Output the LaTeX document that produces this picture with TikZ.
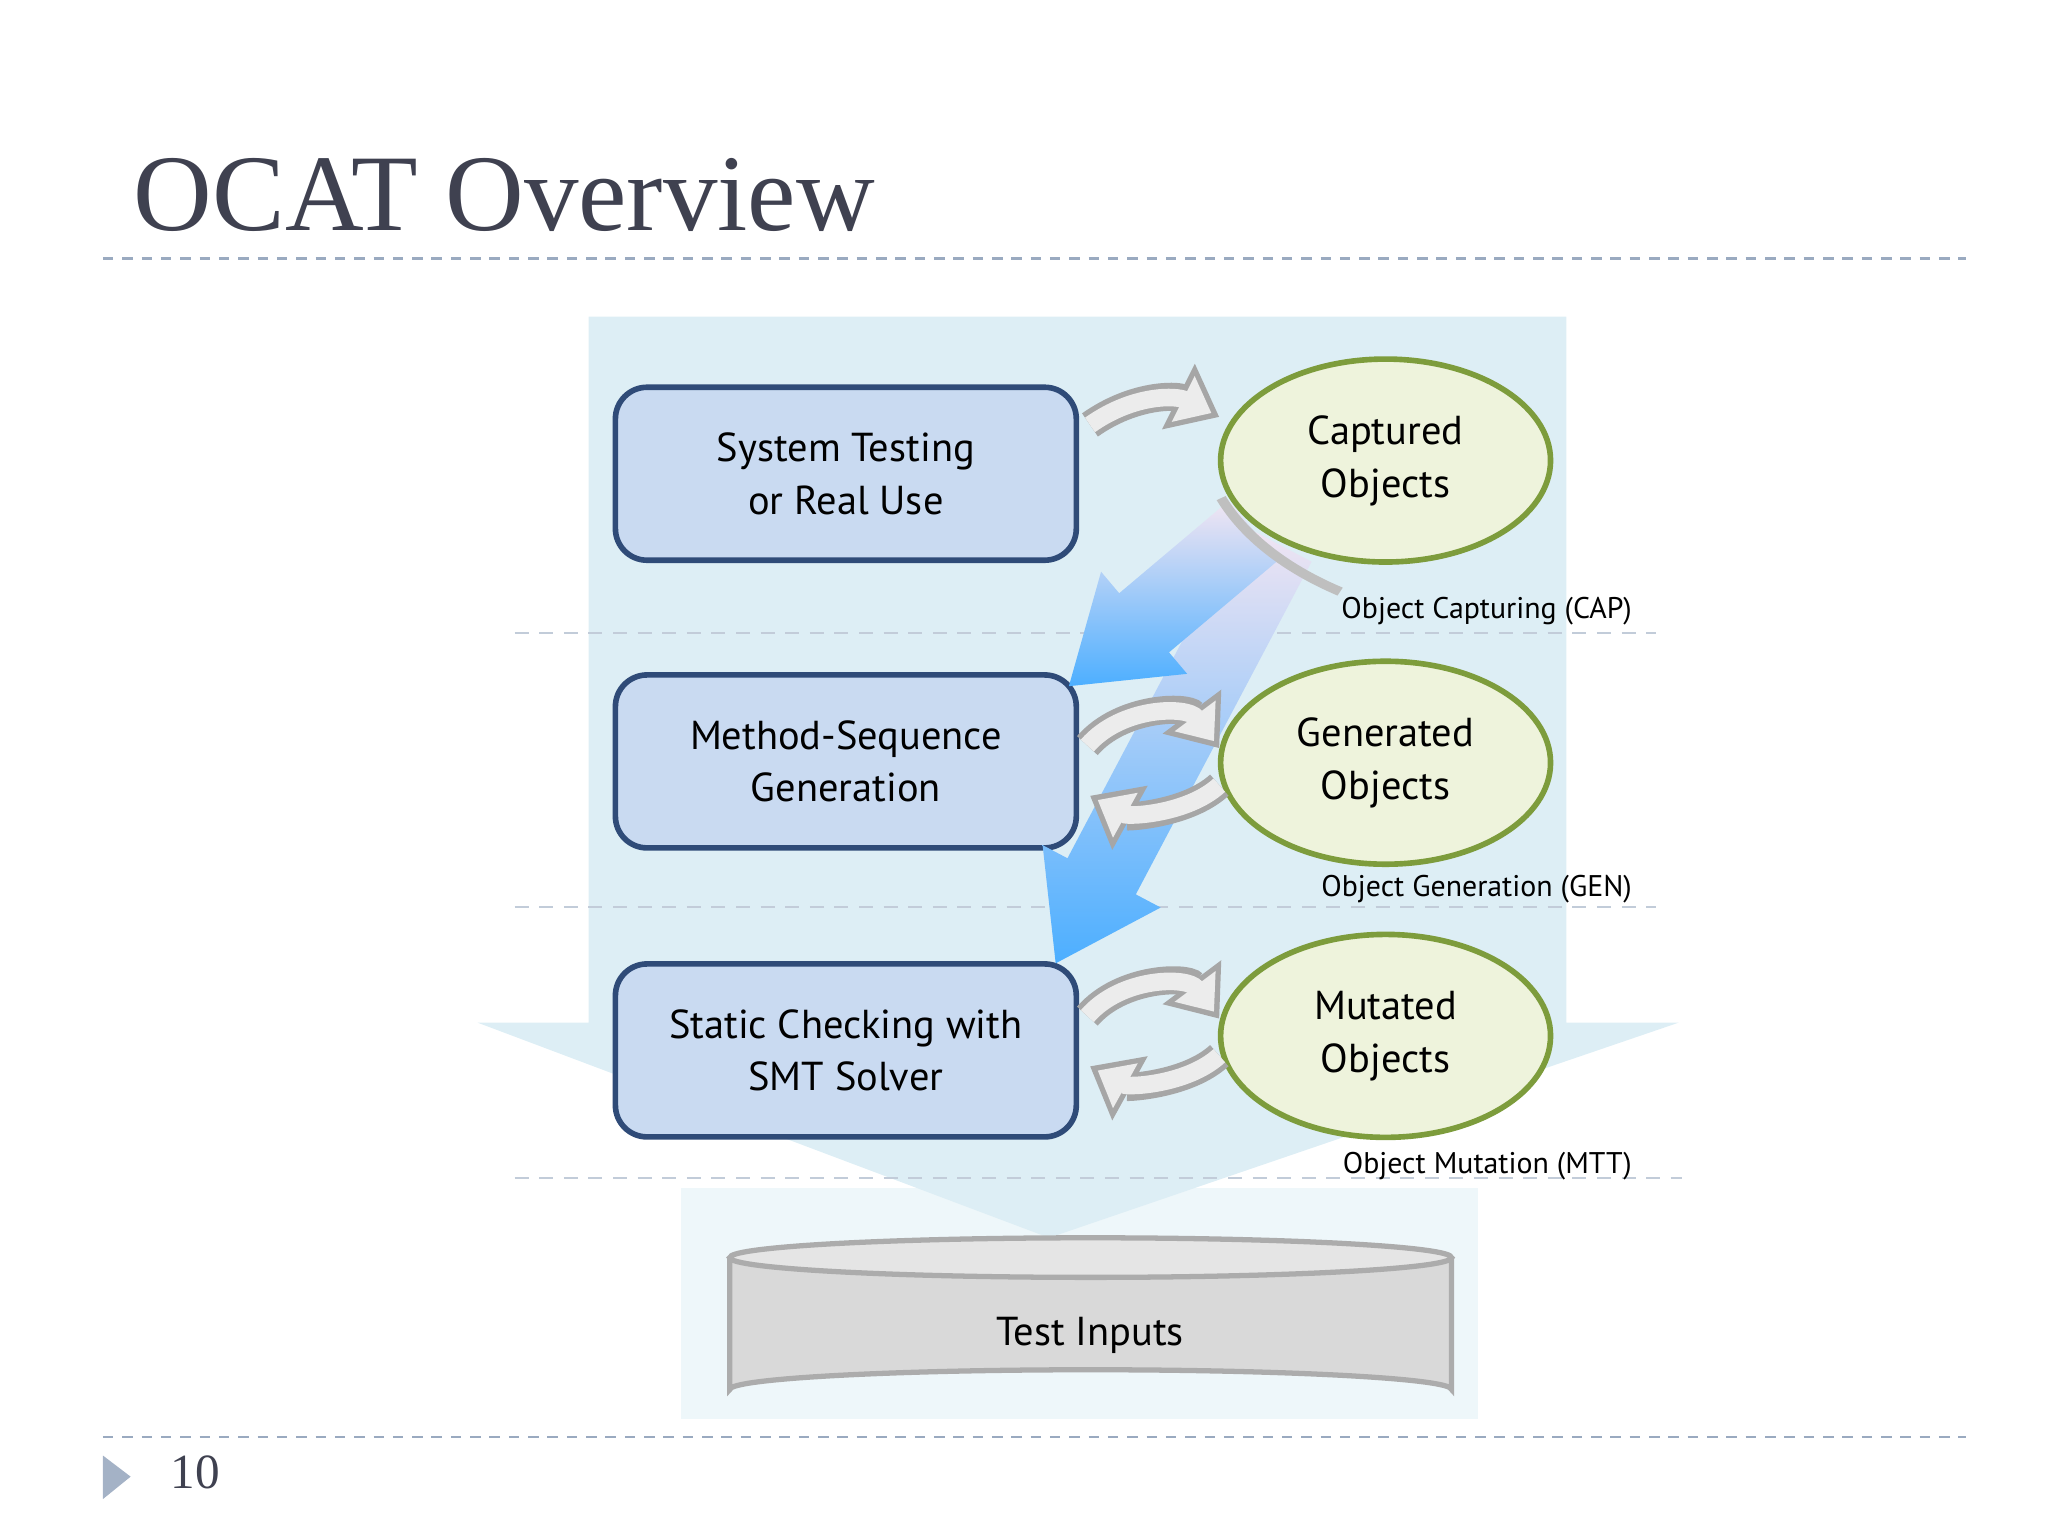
\documentclass[tikz,border=0pt]{standalone}
\usepackage{fontspec}
\setmainfont{Liberation Serif}
\newfontfamily\sansf{PT Sans}
\usetikzlibrary{shapes.geometric,arrows.meta,calc}
\definecolor{bgblue}{HTML}{DDEEF5}
\definecolor{boxfill}{HTML}{C9DAF1}
\definecolor{boxline}{HTML}{2F4B78}
\definecolor{ellfill}{HTML}{EEF3DC}
\definecolor{ellline}{HTML}{7D9C3C}
\definecolor{dashc}{HTML}{9AAAC0}
\definecolor{titlec}{HTML}{3F4150}
\begin{document}
\begin{tikzpicture}[x=0.013196cm,y=-0.013196cm,
  box/.style={draw=boxline,line width=1.6pt,fill=boxfill,rounded corners=9pt,minimum width=4.61cm,minimum height=1.73cm,align=center,font=\sansf\fontsize{11.5}{15}\selectfont},
  ell/.style={ellipse,draw=ellline,line width=1.6pt,fill=ellfill,minimum width=3.3cm,minimum height=2.03cm,align=center,font=\sansf\fontsize{11.5}{15}\selectfont},
  lab/.style={anchor=base east,font=\sansf\fontsize{8.5}{10}\selectfont},
  sep/.style={dash pattern=on 4pt off 3pt,draw=dashc!60,line width=0.6pt},
  gout/.style={line width=8pt,draw=gray!70,-{Triangle[length=13pt,width=20pt]}},
  gin/.style={line width=5pt,draw=gray!15,-{Triangle[length=9pt,width=14pt]},shorten >=2.5pt}]
\useasboundingbox (0,0) rectangle (1552,1164);
% title
\node[anchor=base west,text=titlec,font=\fontsize{31}{36}\selectfont] (title) at (92,175) {OCAT Overview};
\draw[dash pattern=on 3pt off 2.5pt,draw=dashc,line width=0.7pt] (78,196) -- (1490,196);
\draw[dash pattern=on 3pt off 2.5pt,draw=dashc,line width=0.7pt] (78,1089) -- (1490,1089);
\fill[dashc!90] (78,1103) -- (99,1119) -- (78,1136) -- cycle;
\node[anchor=base west,font=\fontsize{14}{16}\selectfont,text=titlec] (num) at (120,1128) {10};
% background
\fill[bgblue!50] (516,900) rectangle (1120,1075);
\fill[bgblue] (446,240) -- (1187,240) -- (1187,775) -- (1272,775) -- (795,938) -- (362,775) -- (446,775) -- cycle;
% separators
\draw[sep] (390,480) -- (1255,480);
\draw[sep] (390,687) -- (1255,687);
\draw[sep] (390,893) -- (1275,893);
% boxes
\node[box] (sys) at (641,359) {System Testing\\or Real Use};
\node[box] (msg) at (641,577) {Method-Sequence\\Generation};
\node[box] (smt) at (641,796) {Static Checking with\\SMT Solver};
\node[ell] (cap) at (1050,349) {Captured\\Objects};
\node[ell] (gen) at (1050,578) {Generated\\Objects};
\node[ell] (mut) at (1050,785) {Mutated\\Objects};
\node[lab] (lcap) at (1246,469) {Object Capturing (CAP)};
\node[lab] (lgen) at (1246,679) {Object Generation (GEN)};
\node[lab] (lmut) at (1246,889) {Object Mutation (MTT)};
% blue fat arrows
\newcommand\fatarr[5]{%
 \coordinate (H) at ($(#2)!#5!(#1)$);
 \shade[top color=white!90!violet,bottom color=blue!45!cyan!70!white,draw=none]
 ($(#1)!#3!90:(#2)$) -- ($(H)!#3!90:(#2)$) -- ($(H)!#4!90:(#2)$) -- (#2)
 -- ($(H)!#4!-90:(#2)$) -- ($(H)!#3!-90:(#2)$) -- ($(#1)!#3!-90:(#2)$) -- cycle;}
\coordinate (a1) at (950,402);
\coordinate (b1) at (810,520);
\coordinate (a2) at (968,412);
\coordinate (b2) at (800,730);
\fatarr{a2}{b2}{11pt}{19pt}{28pt}
\fatarr{a1}{b1}{11pt}{19pt}{28pt}
\fill[gray!50] ($(cap)+(-128,30)$) arc[start angle=200,end angle=235,x radius=3.3cm,y radius=2.0cm] -- ++(4,-6) arc[start angle=235,end angle=200,x radius=3.2cm,y radius=1.92cm] -- cycle;
% gray curved arrows
\coordinate (t1) at (826,322); \coordinate (t2) at (924,316);
\draw[gout] (t1) .. controls (860,298) and (892,300) .. (t2);
\draw[gin] (t1) .. controls (860,298) and (892,300) .. (t2);
\foreach \yy/\nm in {565/g,770/m}{
 \draw[gout] (824,\yy) .. controls (850,\yy-30) and (900,\yy-30) .. (924,\yy+2);
 \draw[gin] (824,\yy) .. controls (850,\yy-30) and (900,\yy-30) .. (924,\yy+2);
 \draw[gout] (924,\yy+30) .. controls (900,\yy+52) and (855,\yy+54) .. (826,\yy+38);
 \draw[gin] (924,\yy+30) .. controls (900,\yy+52) and (855,\yy+54) .. (826,\yy+38);
}
% cylinder
\fill[gray!30!white,draw=gray!65,line width=1.5pt] (553,953) -- (553,1053) arc[start angle=180,end angle=360,x radius=273.5,y radius=15] -- (1100,953);
\draw[fill=gray!20!white,draw=gray!65,line width=1.5pt] (826.5,953) ellipse[x radius=273.5,y radius=15];
\node[font=\sansf\fontsize{11.5}{15}\selectfont] (ti) at (826,1012) {Test Inputs};
\end{tikzpicture}
\end{document}
